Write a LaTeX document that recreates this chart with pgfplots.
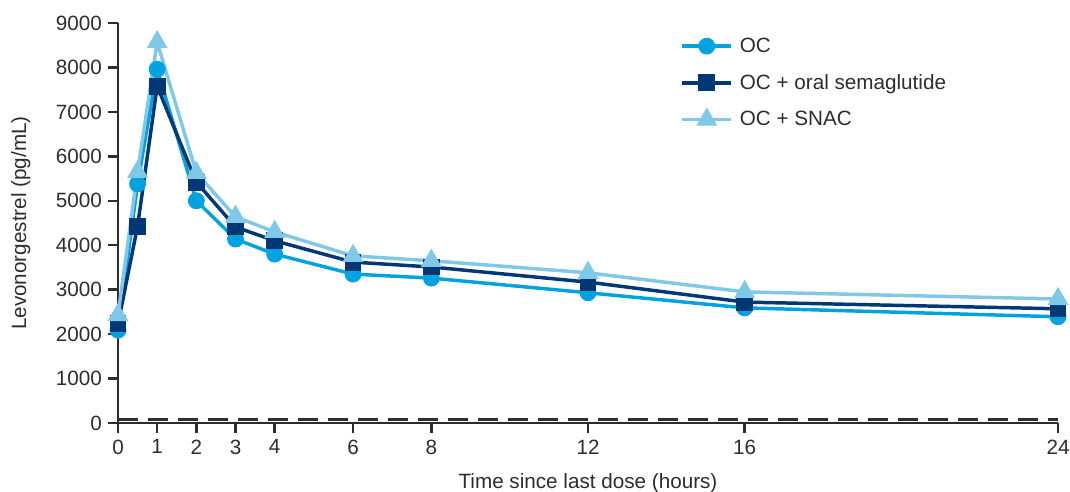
\documentclass[border=0pt]{standalone}
\usepackage{pgfplots}
\pgfplotsset{compat=1.18}
\usepackage{fontspec}
\setmainfont{Liberation Sans}
\definecolor{ocC}{RGB}{0,163,224}
\definecolor{semC}{RGB}{0,56,118}
\definecolor{snacC}{RGB}{128,200,232}
\definecolor{axC}{RGB}{45,45,45}
\begin{document}
\begin{tikzpicture}
\useasboundingbox (-88.5pt,-51.75pt) rectangle (714pt,317.25pt);
\begin{axis}[
  at={(0pt,0pt)}, anchor=south west,
  scale only axis,
  width=705pt, height=300pt,
  xmin=0, xmax=24, ymin=0, ymax=9000,
  axis lines=left,
  axis line style={-, line width=1.8pt, axC},
  xtick={0,1,2,3,4,6,8,12,16,24},
  ytick={0,1000,...,9000},
  tick style={line width=1.8pt, axC},
  tick align=outside,
  major tick length=7.5pt,
  /pgf/number format/assume math mode=true,
  /pgf/number format/1000 sep={},
  tick label style={font=\fontsize{15.5}{18}\selectfont, text=axC},
  xticklabel style={yshift=-1.5pt},
  yticklabel style={xshift=-1pt},
  label style={font=\fontsize{15.5}{18}\selectfont, text=axC},
  xlabel={Time since last dose (hours)},
  ylabel={Levonorgestrel (pg/mL)},
  xlabel style={at={(axis description cs:0.5,0)}, anchor=center, yshift=-45pt},
  ylabel style={at={(axis description cs:0,0.5)}, anchor=center, xshift=0pt, yshift=73pt},
  clip=false,
  legend style={draw=none, fill=none, at={(0.598,0.97)}, anchor=north west,
    font=\fontsize{15.5}{18}\selectfont, row sep=11pt, text=axC, inner sep=0pt,
    nodes={inner xsep=5pt}},
  legend cell align=left,
  legend image code/.code={
    \draw[#1] (0pt,0pt) -- (37pt,0pt);
    \draw[#1] plot coordinates {(18.5pt,0pt)};
  },
]
\addplot[axC, line width=2.1pt, dash pattern=on 15pt off 7.5pt, forget plot] coordinates {(0,85) (24,85)};
\addplot[ocC, line width=2.6pt, mark=*, mark size=5pt] coordinates {
(0,2090) (0.5,5380) (1,7960) (2,5000) (3,4140) (4,3800) (6,3350) (8,3260) (12,2930) (16,2590) (24,2390)};
\addplot[semC, line width=2.6pt, mark=square*, mark size=5pt] coordinates {
(0,2230) (0.5,4430) (1,7580) (2,5420) (3,4410) (4,4100) (6,3620) (8,3510) (12,3170) (16,2720) (24,2570)};
\addplot[snacC, line width=2.6pt, mark=triangle*, mark size=6.5pt] coordinates {
(0,2430) (0.5,5650) (1,8570) (2,5630) (3,4640) (4,4300) (6,3760) (8,3650) (12,3380) (16,2950) (24,2790)};
\legend{OC, OC + oral semaglutide, OC + SNAC}
\end{axis}
\end{tikzpicture}
\end{document}
